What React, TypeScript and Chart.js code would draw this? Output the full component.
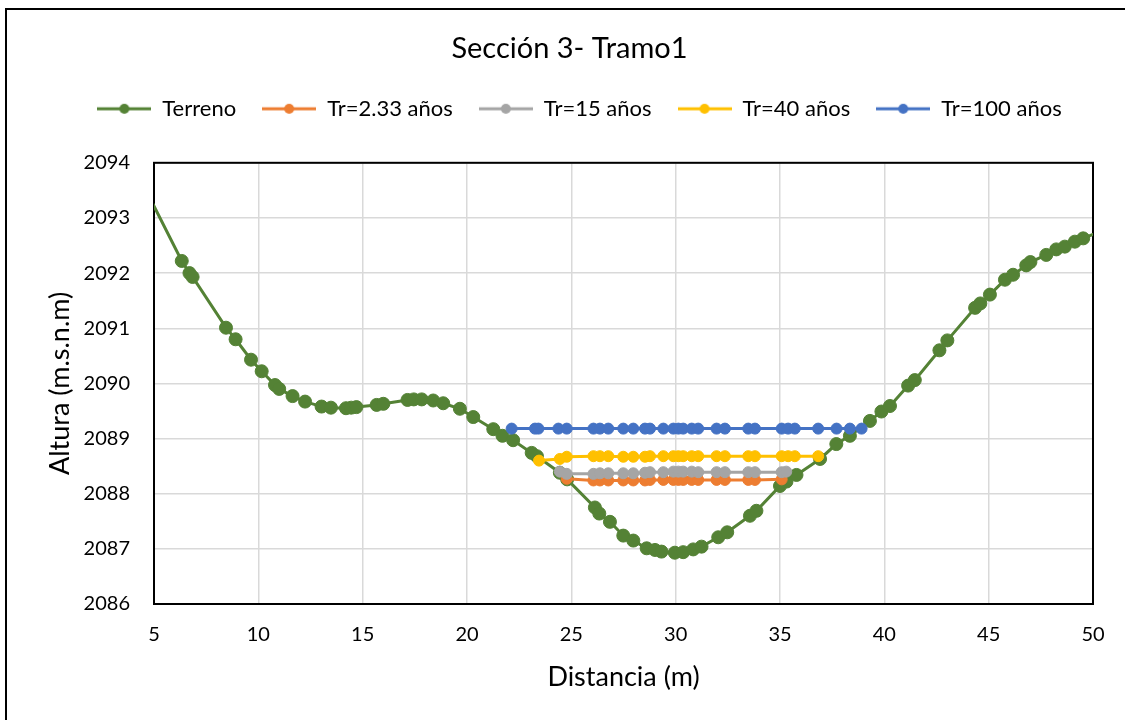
import { useEffect, useRef } from "react";
import { Chart, registerables } from "chart.js";

Chart.register(...registerables);

const chartTitle = "Sección 3- Tramo1";
const xAxisTitle = "Distancia (m)";
const yAxisTitle = "Altura (m.s.n.m)";

const xMin = 5;
const xMax = 50;
const xStep = 5;
const yMin = 2086;
const yMax = 2094;
const yStep = 1;

const seriesNames = ["Terreno", "Tr=2.33 años", "Tr=15 años", "Tr=40 años", "Tr=100 años"];
const seriesColors = ["#548235", "#ED7D31", "#A5A5A5", "#FFC000", "#4472C4"];

const terrainX = [
  4.5, 6.33, 6.7, 6.85, 8.45, 8.91, 9.65, 10.16, 10.8, 11.0, 11.64, 12.24, 13.03, 13.48, 14.2, 14.45,
  14.7, 15.67, 15.99, 17.15, 17.45, 17.83, 18.38, 18.86, 19.66, 20.3, 21.26, 21.7, 22.21, 23.1, 23.35,
  24.45, 24.8, 26.13, 26.34, 26.85, 27.49, 27.97, 28.61, 29.01, 29.32, 29.96, 30.36, 30.84, 31.24,
  32.04, 32.47, 33.56, 33.87, 35.0, 35.31, 35.79, 36.92, 37.7, 38.35, 39.31, 39.86, 40.27, 41.14,
  41.46, 42.64, 43.02, 44.35, 44.6, 45.06, 45.78, 46.17, 46.8, 47.0, 47.76, 48.24, 48.65, 49.13,
  49.53, 50.5,
];
const terrainY = [
  2093.59, 2092.22, 2092.0, 2091.93, 2091.01, 2090.8, 2090.43, 2090.22, 2089.97, 2089.9, 2089.77,
  2089.67, 2089.58, 2089.56, 2089.55, 2089.56, 2089.57, 2089.61, 2089.63, 2089.7, 2089.71, 2089.71,
  2089.69, 2089.64, 2089.54, 2089.39, 2089.17, 2089.05, 2088.97, 2088.74, 2088.68, 2088.38, 2088.26,
  2087.75, 2087.64, 2087.49, 2087.24, 2087.15, 2087.01, 2086.98, 2086.95, 2086.93, 2086.94, 2086.99,
  2087.04, 2087.21, 2087.3, 2087.6, 2087.69, 2088.14, 2088.22, 2088.34, 2088.63, 2088.9, 2089.05,
  2089.32, 2089.49, 2089.59, 2089.96, 2090.06, 2090.6, 2090.78, 2091.37, 2091.45, 2091.61, 2091.88,
  2091.97, 2092.14, 2092.2, 2092.33, 2092.43, 2092.48, 2092.57, 2092.63, 2092.78,
];

const tr233X = [
  24.78, 26.06, 26.37, 26.77, 27.49, 27.97, 28.53, 28.77, 29.41, 29.89, 30.13, 30.36, 30.77, 31.08,
  31.96, 32.36, 33.48, 33.8, 35.08,
];
const tr233Y = [
  2088.27, 2088.24, 2088.24, 2088.24, 2088.24, 2088.24, 2088.24, 2088.25, 2088.25, 2088.25, 2088.25,
  2088.25, 2088.25, 2088.25, 2088.25, 2088.25, 2088.25, 2088.25, 2088.26,
];

const tr15X = [
  24.45, 24.78, 26.06, 26.37, 26.77, 27.49, 27.97, 28.53, 28.77, 29.41, 29.89, 30.13, 30.36, 30.77,
  31.08, 31.96, 32.36, 33.48, 33.8, 35.08, 35.3,
];
const tr15Y = [
  2088.4, 2088.36, 2088.36, 2088.37, 2088.37, 2088.37, 2088.37, 2088.38, 2088.39, 2088.39, 2088.4,
  2088.4, 2088.4, 2088.4, 2088.39, 2088.39, 2088.39, 2088.39, 2088.39, 2088.39, 2088.4,
];

const tr40X = [
  23.45, 24.45, 24.78, 26.06, 26.37, 26.77, 27.49, 27.97, 28.53, 28.77, 29.41, 29.89, 30.13, 30.36,
  30.77, 31.08, 31.96, 32.36, 33.48, 33.8, 35.08, 35.39, 35.71, 36.83,
];
const tr40Y = [
  2088.6, 2088.63, 2088.67, 2088.68, 2088.68, 2088.68, 2088.67, 2088.67, 2088.67, 2088.68, 2088.68,
  2088.68, 2088.68, 2088.68, 2088.68, 2088.68, 2088.68, 2088.68, 2088.68, 2088.68, 2088.68, 2088.68,
  2088.68, 2088.68,
];

const tr100X = [
  22.14, 23.26, 23.42, 24.38, 24.78, 26.06, 26.37, 26.77, 27.49, 27.97, 28.53, 28.77, 29.41, 29.89,
  30.13, 30.36, 30.77, 31.08, 31.96, 32.36, 33.48, 33.8, 35.08, 35.39, 35.71, 36.83, 37.71, 38.35,
  38.91,
];
const tr100Y = [
  2089.18, 2089.18, 2089.18, 2089.18, 2089.18, 2089.18, 2089.18, 2089.18, 2089.18, 2089.18, 2089.18,
  2089.18, 2089.18, 2089.18, 2089.18, 2089.18, 2089.18, 2089.18, 2089.18, 2089.18, 2089.18, 2089.18,
  2089.18, 2089.18, 2089.18, 2089.18, 2089.18, 2089.18, 2089.18,
];

const seriesX = [terrainX, tr233X, tr15X, tr40X, tr100X];
const seriesY = [terrainY, tr233Y, tr15Y, tr40Y, tr100Y];

const FONT = "Lato, 'Noto Sans', sans-serif";

function makeLegendIcon(color: string) {
  const c = document.createElement("canvas");
  c.width = 54;
  c.height = 14;
  const ctx = c.getContext("2d")!;
  ctx.strokeStyle = color;
  ctx.lineWidth = 3;
  ctx.beginPath();
  ctx.moveTo(0, 7);
  ctx.lineTo(54, 7);
  ctx.stroke();
  ctx.fillStyle = color;
  ctx.beginPath();
  ctx.arc(27, 7, 5, 0, Math.PI * 2);
  ctx.fill();
  return c;
}

export default function App() {
  const canvasRef = useRef<HTMLCanvasElement | null>(null);

  useEffect(() => {
    if (!canvasRef.current) return;
    const icons = seriesColors.map((c) => makeLegendIcon(c));

    const datasets = seriesNames.map((name, i) => ({
      label: name,
      data: seriesX[i].map((x, j) => ({ x, y: seriesY[i][j] })),
      showLine: true,
      borderColor: seriesColors[i],
      backgroundColor: seriesColors[i],
      pointBackgroundColor: seriesColors[i],
      pointBorderColor: seriesColors[i],
      borderWidth: 3,
      pointRadius: i === 0 ? 6.5 : 5.5,
      pointBorderWidth: 1,
      tension: 0,
      clip: 0,
      order: seriesNames.length - i,
    }));

    const framePlugin = {
      id: "frame",
      beforeInit(chart: any) {
        const legend = chart.legend;
        if (legend) {
          const orig = legend.fit;
          legend.fit = function () {
            orig.call(this);
            this.height += 33;
          };
        }
      },
      afterLayout(chart: any) {
        const t = chart.titleBlock;
        if (t) {
          t.left += 23;
          t.right += 23;
        }
        const l = chart.legend;
        if (l) {
          l.left += 33;
          l.right += 33;
        }
      },
      beforeDraw(chart: any) {
        const ctx = chart.ctx;
        ctx.save();
        ctx.fillStyle = "#ffffff";
        ctx.fillRect(0, 0, chart.width, chart.height);
        ctx.strokeStyle = "#000000";
        ctx.lineWidth = 2;
        ctx.beginPath();
        ctx.moveTo(6, chart.height);
        ctx.lineTo(6, 9);
        ctx.lineTo(chart.width, 9);
        ctx.stroke();
        ctx.restore();
      },
      beforeDatasetsDraw(chart: any) {
        const { ctx, chartArea } = chart;
        ctx.save();
        ctx.strokeStyle = "#000000";
        ctx.lineWidth = 2;
        ctx.strokeRect(chartArea.left, chartArea.top, chartArea.right - chartArea.left, chartArea.bottom - chartArea.top);
        ctx.restore();
      },
    };

    const chart = new Chart(canvasRef.current, {
      type: "scatter",
      data: { datasets: datasets as any },
      options: {
        animation: false,
        responsive: false,
        devicePixelRatio: 1,
        layout: { padding: { left: 0, right: 32, top: 0, bottom: 0 } },
        plugins: {
          title: {
            display: true,
            text: chartTitle,
            color: "#000",
            font: { family: FONT, size: 29, weight: "normal" },
            padding: { top: 31, bottom: 6 },
          },
          legend: {
            display: true,
            position: "top",
            labels: {
              usePointStyle: true,
              pointStyleWidth: 54,
              color: "#000",
              font: { family: FONT, size: 22 },
              padding: 26,
              sort: (a: any, b: any) => a.datasetIndex - b.datasetIndex,
              generateLabels: (ch: any) =>
                (Chart.defaults.plugins.legend.labels.generateLabels as any)(ch).map((l: any) => ({
                  ...l,
                  pointStyle: icons[l.datasetIndex],
                })),
            },
          },
          tooltip: { enabled: false },
        },
        scales: {
          x: {
            type: "linear",
            min: xMin,
            max: xMax,
            afterFit: (scale: any) => {
              scale.height = 116;
            },
            ticks: {
              stepSize: xStep,
              color: "#000",
              font: { family: FONT, size: 20 },
              padding: 19,
              callback: (v: any) => String(v),
            },
            grid: { color: "#D9D9D9", lineWidth: 1.5, drawTicks: false },
            border: { display: false },
            title: {
              display: true,
              text: xAxisTitle,
              color: "#000",
              font: { family: FONT, size: 27 },
              padding: { top: 0, bottom: 27 },
            },
          },
          y: {
            type: "linear",
            min: yMin,
            max: yMax,
            afterFit: (scale: any) => {
              scale.width = 154;
            },
            ticks: {
              stepSize: yStep,
              color: "#000",
              font: { family: FONT, size: 20 },
              padding: 24,
              callback: (v: any) => String(v),
            },
            grid: { color: "#D9D9D9", lineWidth: 1.5, drawTicks: false },
            border: { display: false },
            title: {
              display: true,
              text: yAxisTitle,
              color: "#000",
              font: { family: FONT, size: 27 },
              padding: { top: 44, bottom: 0 },
            },
          },
        },
      },
      plugins: [framePlugin as any],
    });

    return () => {
      chart.destroy();
    };
  }, []);

  return (
    <div style={{ position: "absolute", left: 0, top: 0, width: 1125, height: 720, background: "#fff" }}>
      <canvas ref={canvasRef} width={1125} height={720} style={{ display: "block" }} />
    </div>
  );
}
